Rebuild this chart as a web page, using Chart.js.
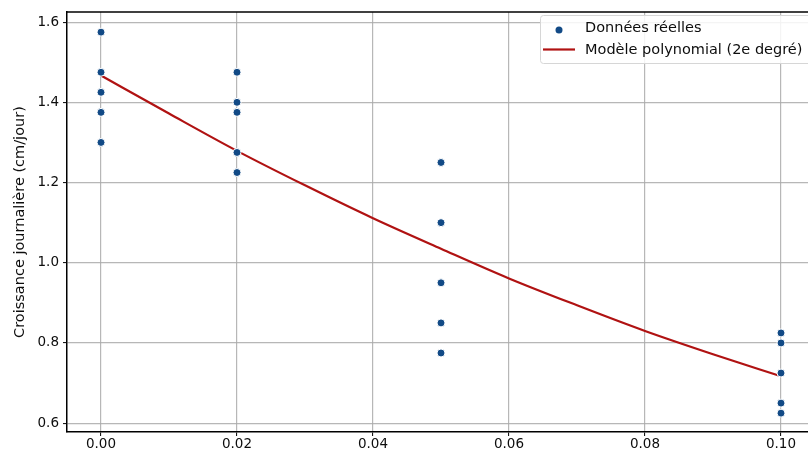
<!DOCTYPE html>
<html>
<head>
<meta charset="utf-8">
<script src="https://cdn.jsdelivr.net/npm/chart.js@4.4.1/dist/chart.umd.min.js"></script>
<style>
html,body{margin:0;padding:0;background:#fff;overflow:hidden;}
#wrap{width:808px;height:454px;position:relative;overflow:hidden;}
</style>
</head>
<body>
<div id="wrap"><canvas id="c" width="820" height="454"></canvas></div>
<script>
// Observed data
const obsX = [0,0,0,0,0, 0.02,0.02,0.02,0.02,0.02, 0.05,0.05,0.05,0.05,0.05, 0.10,0.10,0.10,0.10,0.10];
const obsY = [1.575,1.475,1.425,1.375,1.30, 1.475,1.40,1.375,1.275,1.225, 1.25,1.10,0.95,0.85,0.775, 0.825,0.80,0.725,0.65,0.625];
// Fitted curve
const fitX = [0,0.01,0.02,0.03,0.04,0.05,0.06,0.07,0.08,0.09,0.10];
const fitY = [1.467,1.372,1.279,1.193,1.111,1.035,0.961,0.894,0.830,0.772,0.717];
// Ticks
const xTicks = [0,0.02,0.04,0.06,0.08,0.10];
const yTicks = [0.6,0.8,1.0,1.2,1.4,1.6];
const labelObs = 'Données réelles';
const labelFit = 'Modèle polynomial (2e degré)';
const yTitle = 'Croissance journalière (cm/jour)';

const FONT = '"DejaVu Sans", sans-serif';
const PT_COLOR = '#124a86';
const LINE_COLOR = '#b01212';
const TXT = '#0d0d0d';

const legendPlugin = {
  id: 'customLegend',
  afterDraw(chart) {
    const ctx = chart.ctx;
    const ca = chart.chartArea;
    ctx.save();
    // top border
    ctx.strokeStyle = '#000';
    ctx.lineWidth = 1.5;
    ctx.beginPath();
    ctx.moveTo(ca.left, ca.top);
    ctx.lineTo(chart.width + 2, ca.top);
    ctx.stroke();
    // legend box
    const bx = 540.5, by = 15.5, bw = 290, bh = 48, r = 3;
    ctx.fillStyle = 'rgba(255,255,255,0.85)';
    ctx.strokeStyle = '#d6d6d6';
    ctx.lineWidth = 1;
    ctx.beginPath();
    ctx.moveTo(bx + r, by);
    ctx.lineTo(bx + bw - r, by);
    ctx.arcTo(bx + bw, by, bx + bw, by + r, r);
    ctx.lineTo(bx + bw, by + bh - r);
    ctx.arcTo(bx + bw, by + bh, bx + bw - r, by + bh, r);
    ctx.lineTo(bx + r, by + bh);
    ctx.arcTo(bx, by + bh, bx, by + bh - r, r);
    ctx.lineTo(bx, by + r);
    ctx.arcTo(bx, by, bx + r, by, r);
    ctx.closePath();
    ctx.fill();
    ctx.stroke();
    // marker
    ctx.fillStyle = PT_COLOR;
    ctx.beginPath();
    ctx.arc(559, 30, 3.5, 0, Math.PI * 2);
    ctx.fill();
    // line sample
    ctx.strokeStyle = LINE_COLOR;
    ctx.lineWidth = 2.2;
    ctx.beginPath();
    ctx.moveTo(543, 49.5);
    ctx.lineTo(575, 49.5);
    ctx.stroke();
    // texts
    ctx.fillStyle = TXT;
    ctx.font = '14.5px ' + FONT;
    ctx.textBaseline = 'middle';
    ctx.textAlign = 'left';
    ctx.fillText(labelObs, 585, 28);
    ctx.fillText(labelFit, 585, 50);
    ctx.restore();
  }
};

const scatterData = obsX.map((x, i) => ({x: x, y: obsY[i]}));
const fitData = fitX.map((x, i) => ({x: x, y: fitY[i]}));

new Chart(document.getElementById('c'), {
  type: 'scatter',
  data: {
    datasets: [
      {
        label: labelFit,
        type: 'line',
        data: fitData,
        borderColor: LINE_COLOR,
        borderWidth: 2.2,
        pointRadius: 0,
        cubicInterpolationMode: 'monotone',
        fill: false,
        order: 2
      },
      {
        label: labelObs,
        data: scatterData,
        backgroundColor: PT_COLOR,
        borderColor: '#ffffff',
        borderWidth: 1,
        pointRadius: 4,
        order: 1
      }
    ]
  },
  options: {
    responsive: false,
    animation: false,
    layout: {padding: {top: 8, right: 0, left: 0, bottom: 0}},
    plugins: {legend: {display: false}, tooltip: {enabled: false}},
    scales: {
      x: {
        type: 'linear',
        min: -0.005,
        max: 0.105,
        afterBuildTicks(s) { s.ticks = xTicks.map(v => ({value: v})); },
        afterFit(s) { s.height = 22; },
        ticks: {
          color: TXT,
          font: {family: FONT, size: 13.5},
          padding: 0,
          maxRotation: 0,
          autoSkip: false,
          callback: v => v.toFixed(2)
        },
        grid: {color: 'rgba(170,170,170,0.85)', lineWidth: 1.2, tickLength: 4, tickColor: '#000', tickWidth: 1},
        border: {color: '#000', width: 1.5}
      },
      y: {
        type: 'linear',
        min: 0.578,
        max: 1.625,
        afterBuildTicks(s) { s.ticks = yTicks.map(v => ({value: v})); },
        afterFit(s) { s.width = 67; },
        ticks: {
          color: TXT,
          font: {family: FONT, size: 13.5},
          padding: 4,
          autoSkip: false,
          callback: v => v.toFixed(1)
        },
        title: {
          display: true,
          text: yTitle,
          color: TXT,
          font: {family: FONT, size: 14.5},
          padding: {top: 12, bottom: 0}
        },
        grid: {color: 'rgba(170,170,170,0.85)', lineWidth: 1.2, tickLength: 4, tickColor: '#000', tickWidth: 1},
        border: {color: '#000', width: 1.5}
      }
    }
  },
  plugins: [legendPlugin]
});
</script>
</body>
</html>
